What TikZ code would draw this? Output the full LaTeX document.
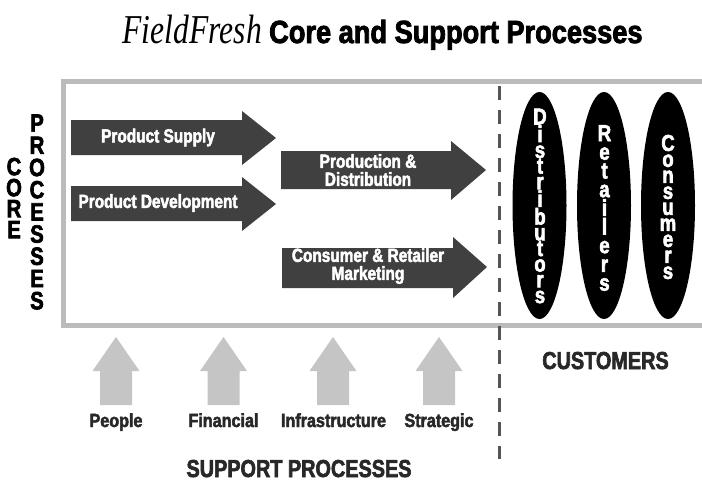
\documentclass[tikz,border=0pt]{standalone}
\usepackage{fontspec}
\usepackage{xcolor}
\setmainfont{Liberation Sans}
\newfontfamily\boldface[FakeStretch=0.81,FakeBold=2.5]{Liberation Sans Bold}
\newfontfamily\wideface[FakeStretch=0.85,FakeBold=2.5]{Liberation Sans Bold}
\newfontfamily\brandface[FakeStretch=0.77]{Liberation Serif Italic}
\definecolor{framegray}{RGB}{187, 187, 187}
\definecolor{supportgray}{RGB}{197, 197, 197}
\definecolor{coredark}{RGB}{64, 64, 64}
\definecolor{dashgray}{RGB}{85, 85, 85}
\definecolor{labeldark}{RGB}{40, 40, 40}
\tikzset{
    corearrow/.style={fill=coredark},
    supportarrow/.style={fill=supportgray},
    customer/.style={ellipse, fill=black, inner sep=0pt, minimum width=54pt, minimum height=227pt},
    corelabel/.style={white, align=center, inner sep=0pt, font={\boldface\fontsize{19}{18}\selectfont}},
    supportlabel/.style={labeldark, anchor=base, inner sep=0pt, font={\wideface\fontsize{19}{19}\selectfont}},
    headlabel/.style={labeldark, anchor=base, inner sep=0pt, font={\boldface\fontsize{24.5}{25}\selectfont}},
    stacked/.style={black, align=center, inner sep=0pt, font={\boldface\fontsize{25}{#1}\selectfont}},
    letters/.style={white, align=center, inner sep=0pt, font={\boldface\fontsize{23}{#1}\selectfont}}
}
\usetikzlibrary{shapes.geometric}

\begin{document}
\begin{tikzpicture}[x=1pt, y=-1pt]
    \useasboundingbox (0,0) rectangle (702,480);

    % title
    \node[anchor=base east, inner sep=0pt, font={\brandface\fontsize{41}{41}\selectfont}] (brand) at (262,43) {FieldFresh};
    \node[anchor=base west, inner sep=0pt, font={\wideface\fontsize{32}{32}\selectfont}] (title) at (269,43) {Core and Support Processes};

    % frame, open at the right edge
    \draw[line width=5pt, framegray] (702,81.5) -- (63.5,81.5) -- (63.5,325.5) -- (702,325.5);

    % dividing line
    \draw[line width=3pt, dashgray, dash pattern=on 14pt off 10pt] (499,86) -- (499,459);

    % core arrows
    \fill[corearrow] (71,120) -- (242,120) -- (242,111) -- (276,138) -- (242,165) -- (242,155) -- (71,155) -- cycle;
    \fill[corearrow] (71,186) -- (242,186) -- (242,177) -- (276,204) -- (242,231) -- (242,221) -- (71,221) -- cycle;
    \fill[corearrow] (281,151) -- (451,151) -- (451,141) -- (486,170) -- (451,200) -- (451,189) -- (281,189) -- cycle;
    \fill[corearrow] (282,248) -- (453,248) -- (453,237) -- (487,267) -- (453,298) -- (453,288) -- (282,288) -- cycle;

    \node[corelabel] (supply) at (158,137.5) {Product Supply};
    \node[corelabel] (development) at (158,203) {Product Development};
    \node[corelabel] (production) at (368,170) {Production \&\\Distribution};
    \node[corelabel] (marketing) at (368,266) {Consumer \& Retailer\\Marketing};

    % customers
    \node[customer] (distributors) at (539.5,205.5) {};
    \node[customer] (retailers) at (604,205.5) {};
    \node[customer] (consumers) at (668,205.5) {};
    \node[letters=15.7pt] (distlabel) at (540,206) {D\\i\\s\\t\\r\\i\\b\\u\\t\\o\\r\\s};
    \node[letters=18.7pt] (retlabel) at (604.5,208) {R\\e\\t\\a\\i\\l\\e\\r\\s};
    \node[letters=16pt] (conlabel) at (668,207) {C\\o\\n\\s\\u\\m\\e\\r\\s};

    % support arrows
    \foreach \name/\xc in {people/116, financial/223.5, infrastructure/333, strategic/439}{
        \fill[supportarrow] (\xc-16,405) -- (\xc-16,371) -- (\xc-23.5,371) -- (\xc,337) -- (\xc+23.5,371) -- (\xc+16,371) -- (\xc+16,405) -- cycle;
    }
    \node[supportlabel] (people) at (116,427) {People};
    \node[supportlabel] (financial) at (223.5,427) {Financial};
    \node[supportlabel] (infrastructure) at (333.5,427) {Infrastructure};
    \node[supportlabel] (strategic) at (439,427) {Strategic};

    % side and bottom headings
    \node[stacked=21pt] (core) at (14,198) {C\\O\\R\\E};
    \node[stacked=22.2pt] (processes) at (37,212) {P\\R\\O\\C\\E\\S\\S\\E\\S};
    \node[headlabel] (support) at (299,477) {SUPPORT PROCESSES};
    \node[headlabel] (customers) at (605.5,369) {CUSTOMERS};
\end{tikzpicture}
\end{document}
